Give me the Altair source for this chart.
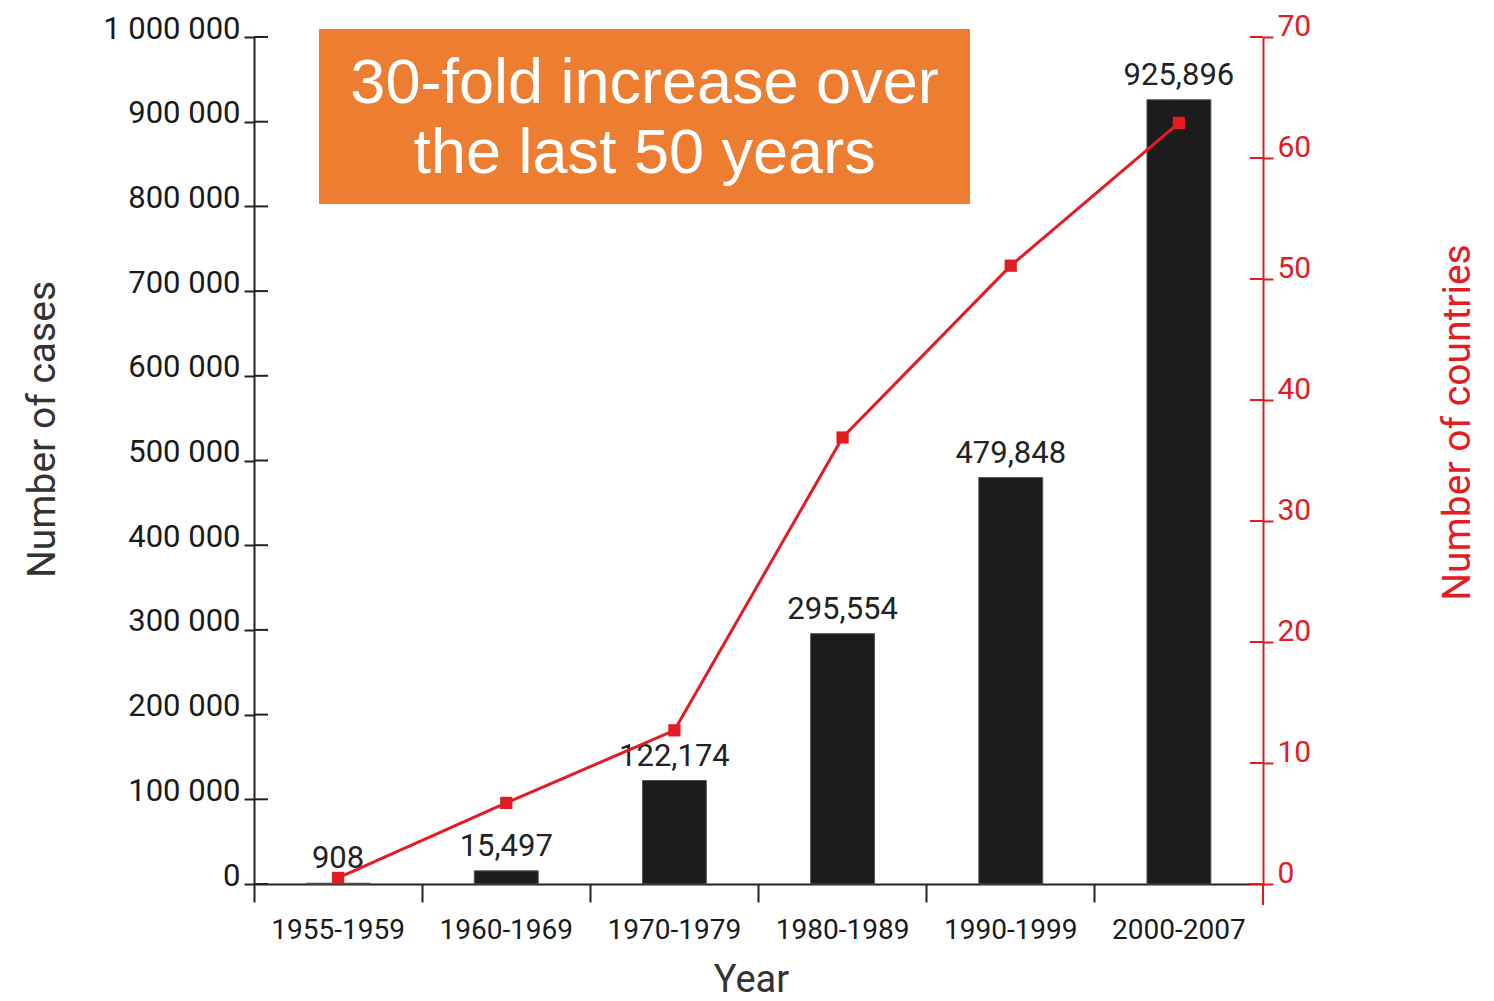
import altair as alt
import pandas as pd

# Reported dengue cases and number of reporting countries by period
periods = ["1955-1959", "1960-1969", "1970-1979", "1980-1989", "1990-1999", "2000-2007"]
cases = [908, 15497, 122174, 295554, 479848, 925896]
case_labels = ["908", "15,497", "122,174", "295,554", "479,848", "925,896"]
countries = [0.5, 6.7, 12.7, 36.9, 51.1, 62.9]

case_ticks = [0, 100000, 200000, 300000, 400000, 500000, 600000, 700000, 800000, 900000, 1000000]
country_ticks = [0, 10, 20, 30, 40, 50, 60, 70]
note_lines = ["30-fold increase over", "the last 50 years"]

W, H = 1009, 847
BLACK = "#1d1b1d"
RED = "#e31b23"
ORANGE = "#ed7d31"
FONT = "Roboto"

df = pd.DataFrame({"period": periods, "cases": cases, "label": case_labels, "countries": countries})
case_tick_df = pd.DataFrame({"cases": case_ticks})
country_tick_df = pd.DataFrame({"countries": country_ticks})
one = pd.DataFrame({"k": [0]})

x_scale = alt.Scale(paddingInner=0, paddingOuter=0)

x_axis = alt.Axis(
    title="Year",
    bandPosition=0,
    labelAngle=0,
    labelFont=FONT,
    labelFontSize=28,
    labelColor="#1a1a1a",
    labelPadding=14,
    tickSize=18,
    tickWidth=2,
    tickColor="#222",
    domainColor="#222",
    domainWidth=2,
    grid=False,
    titleFont=FONT,
    titleFontSize=38,
    titleFontWeight="normal",
    titleColor="#333",
    titleX=497,
    titleY=96,
    titleBaseline="middle",
    titleAnchor="start",
    titleAlign="center",
)

cases_axis = alt.Axis(
    title="Number of cases",
    values=case_ticks,
    labelExpr="replace(format(datum.value, ',d'), /,/g, ' ')",
    labelFont=FONT,
    labelFontSize=31,
    labelColor="#1a1a1a",
    labelPadding=4,
    labelOffset=-8,
    tickSize=10,
    tickWidth=2,
    tickColor="#222",
    domainColor="#222",
    domainWidth=2,
    grid=False,
    titleFont=FONT,
    titleFontSize=39,
    titleFontWeight="normal",
    titleColor="#333",
    titleX=-212,
    titleY=392,
    titleAngle=270,
    titleBaseline="middle",
    titleAlign="center",
)

countries_axis = alt.Axis(
    title="Number of countries",
    orient="right",
    values=country_ticks,
    labelFont=FONT,
    labelFontSize=30,
    labelColor=RED,
    labelPadding=4,
    labelOffset=-11,
    tickSize=10,
    tickWidth=2,
    tickColor=RED,
    domainColor=RED,
    domainWidth=2,
    grid=False,
    titleFont=FONT,
    titleFontSize=39,
    titleFontWeight="normal",
    titleColor=RED,
    titleX=194,
    titleY=385,
    titleAngle=270,
    titleBaseline="middle",
    titleAlign="center",
)

x_enc = alt.X("period:N", sort=periods, scale=x_scale, axis=x_axis)
cases_scale = alt.Scale(domain=[0, 1000000], nice=False, zero=True)
countries_scale = alt.Scale(domain=[0, 70], nice=False, zero=True)
y_cases = alt.Y("cases:Q", scale=cases_scale, axis=cases_axis)
y_countries = alt.Y("countries:Q", scale=countries_scale, axis=countries_axis)

bars = alt.Chart(df).mark_bar(
    color=BLACK, stroke="#555", strokeWidth=1, width=alt.RelativeBandSize(0.38)
).encode(x=x_enc, y=y_cases)

bar_text = alt.Chart(df).mark_text(
    font=FONT, fontSize=31, color="#222", baseline="bottom", dy=-8
).encode(x=x_enc, y=y_cases, text="label:N")

# inner half of the left-axis ticks, so they cross the axis line
case_inner_ticks = alt.Chart(case_tick_df).mark_rule(color="#222", strokeWidth=2).encode(
    y=y_cases, x=alt.value(0), x2=alt.value(14)
)

left = alt.layer(bars, bar_text, case_inner_ticks)

line = alt.Chart(df).mark_line(color=RED, strokeWidth=3).encode(x=x_enc, y=y_countries)
points = alt.Chart(df).mark_point(
    shape="square", filled=True, color=RED, size=150, opacity=1
).encode(x=x_enc, y=y_countries)

country_inner_ticks = alt.Chart(country_tick_df).mark_rule(color=RED, strokeWidth=2).encode(
    y=y_countries, x=alt.value(W - 13), x2=alt.value(W)
)

right = alt.layer(line, points, country_inner_ticks)

# the right axis line runs a little below the baseline
right_stub = alt.Chart(one).mark_rule(color=RED, strokeWidth=2).encode(
    x=alt.value(W), y=alt.value(H), y2=alt.value(H + 21)
)

note_box = alt.Chart(one).mark_rect(color=ORANGE).encode(
    x=alt.value(65), x2=alt.value(716), y=alt.value(-8), y2=alt.value(167)
)
note_text = alt.Chart(one).mark_text(
    text=note_lines,
    font="Liberation Sans",
    fontSize=63,
    color="white",
    align="center",
    baseline="alphabetic",
    lineHeight=70,
).encode(x=alt.value(390.5), y=alt.value(66))

chart = (
    alt.layer(left, right, right_stub, note_box, note_text)
    .resolve_scale(y="independent")
    .properties(
        width=W,
        height=H,
        autosize=alt.AutoSizeParams(type="none"),
        padding={"left": 254, "top": 37, "right": 231, "bottom": 117},
        view=alt.ViewBackground(stroke="transparent", strokeWidth=0),
    )
    .configure_view(stroke="transparent", strokeWidth=0)
    .configure_axis(grid=False)
    .configure(background="white")
)

chart.save("out.html", embed_options={"renderer": "svg", "actions": False})
